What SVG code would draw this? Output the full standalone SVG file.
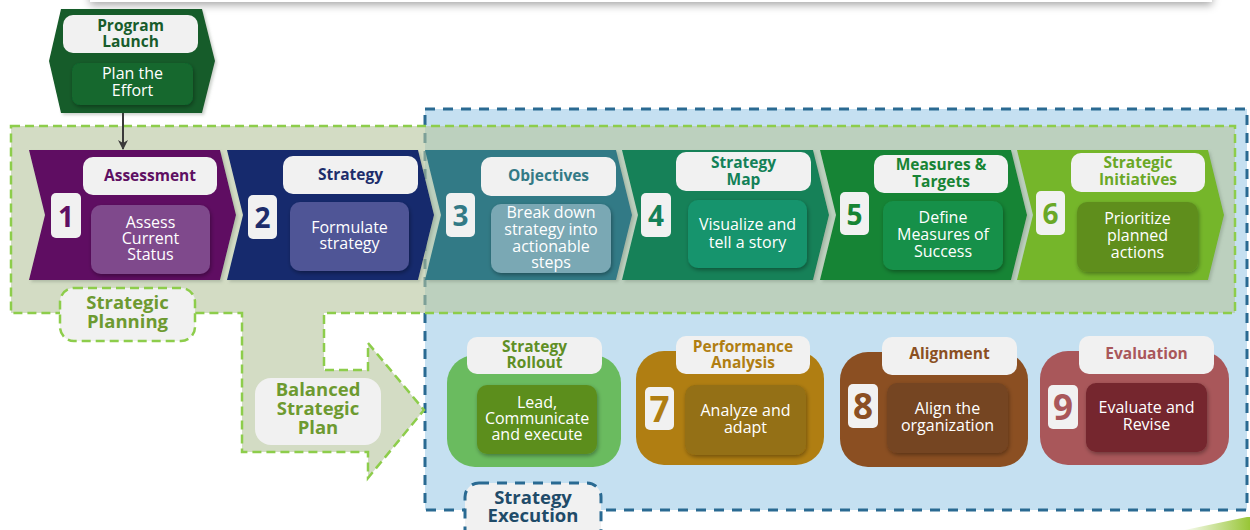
<svg xmlns="http://www.w3.org/2000/svg" width="1250" height="530" viewBox="0 0 1250 530">
  <defs>
    <filter id="soft" x="-10%" y="-10%" width="130%" height="140%">
      <feDropShadow dx="1" dy="2" stdDeviation="2" flood-color="#000" flood-opacity="0.35"/>
    </filter>
    <filter id="halo" x="-10%" y="-10%" width="130%" height="130%">
      <feDropShadow dx="2" dy="2" stdDeviation="1.5" flood-color="#6f7f6f" flood-opacity="0.35"/>
    </filter>
    <filter id="topshade" x="-5%" y="-50%" width="110%" height="200%">
      <feDropShadow dx="0" dy="3" stdDeviation="4" flood-color="#000" flood-opacity="0.35"/>
    </filter>
    <linearGradient id="wedge" x1="0" y1="0" x2="1" y2="0">
      <stop offset="0" stop-color="#ffffff"/>
      <stop offset="1" stop-color="#98c636"/>
    </linearGradient>
    <marker id="arrow" viewBox="0 0 10 10" refX="9" refY="5" markerWidth="5" markerHeight="5" orient="auto">
      <path d="M0,0 L10,5 L0,10 L3,5 Z" fill="#3a3a3a"/>
    </marker>
    <polygon id="chev" points="0,150 191,150 207,215 191,280 0,280 16,215"/>
  </defs>
  <style>
    text { font-family: "Open Sans", "Noto Sans", "DejaVu Sans", sans-serif; text-anchor: middle; }
    .hd { font-weight: 700; font-size: 15.5px; }
    .bd { fill: #ffffff; font-size: 16px; }
    .num { font-weight: 700; font-size: 28px; }
    .bnum { font-weight: 700; font-size: 35px; }
    .lbl { font-weight: 700; font-size: 18.5px; }
    .pill { fill: #f1f1f1; }
    .pl-fill { fill: #b6c59d; fill-opacity: 0.6; }
    .gdash { fill: none; stroke: #8dcd4b; stroke-width: 2.5; stroke-dasharray: 9 5; }
    .bdash { stroke: #2a6a92; stroke-width: 3; stroke-dasharray: 10 8; }
  </style>

  <!-- page edge above -->
  <rect x="90" y="-30" width="1122" height="32" fill="#ffffff" filter="url(#topshade)"/>

  <!-- strategy execution area -->
  <g id="execution-area">
    <rect x="425" y="109" width="822" height="401" fill="#c5e0f1" class="bdash"/>
  </g>

  <!-- strategic planning area with the plan arrow -->
  <g id="planning-area">
    <path class="pl-fill" d="M11,126 H1235 V313 H324 V370 H368 V343 L424,410 L368,478 V452 H242 V313 H11 Z"/>
    <path class="gdash" d="M11,126 H1235 V313 H324 V370 H368 V343 L424,410 L368,478 V452 H242 V313 H11 Z"/>
  </g>

  <g id="label-planning">
    <rect x="60" y="288" width="135" height="53" rx="14" class="pill"/>
    <rect x="60" y="288" width="135" height="53" rx="14" class="gdash"/>
    <text class="lbl" x="127.5" y="309" fill="#6d9a30">Strategic</text>
    <text class="lbl" x="127.5" y="328" fill="#6d9a30">Planning</text>
  </g>

  <g id="label-execution">
    <rect x="465" y="483" width="136" height="60" rx="14" class="pill bdash"/>
    <text class="lbl" x="533" y="504" fill="#1f4b69">Strategy</text>
    <text class="lbl" x="533" y="522" fill="#1f4b69">Execution</text>
  </g>

  <g id="label-plan">
    <rect x="255" y="378" width="126" height="67" rx="16" class="pill"/>
    <text class="lbl" x="318" y="396" fill="#6d9a30">Balanced</text>
    <text class="lbl" x="318" y="415" fill="#6d9a30">Strategic</text>
    <text class="lbl" x="318" y="434" fill="#6d9a30">Plan</text>
  </g>

  <!-- planning steps -->
  <g id="step-1" transform="translate(29,0)">
    <use href="#chev" fill="#5e0f62" filter="url(#halo)"/>
    <rect x="54" y="157" width="134" height="38" rx="10" class="pill"/>
    <text class="hd" x="121" y="181" fill="#5e0f62">Assessment</text>
    <rect x="22" y="193" width="30" height="45" rx="5" class="pill"/>
    <text class="num" x="37" y="227" fill="#5e0f62">1</text>
    <rect x="62" y="205" width="119" height="69" rx="10" fill="#7f4a8c" filter="url(#soft)"/>
    <text class="bd" x="121.5" y="228">Assess</text>
    <text class="bd" x="121.5" y="244">Current</text>
    <text class="bd" x="121.5" y="260">Status</text>
  </g>

  <g id="step-2" transform="translate(227,0)">
    <use href="#chev" fill="#132a6d" filter="url(#halo)"/>
    <rect x="56" y="156" width="135" height="38" rx="10" class="pill"/>
    <text class="hd" x="123.5" y="180" fill="#1d2d6b">Strategy</text>
    <rect x="21" y="195" width="29" height="44" rx="5" class="pill"/>
    <text class="num" x="35.5" y="228" fill="#1d2d6b">2</text>
    <rect x="63" y="202" width="119" height="69" rx="10" fill="#4f5496" filter="url(#soft)"/>
    <text class="bd" x="122.5" y="233">Formulate</text>
    <text class="bd" x="122.5" y="249">strategy</text>
  </g>

  <g id="step-3" transform="translate(425,0)">
    <use href="#chev" fill="#337a86" filter="url(#halo)"/>
    <rect x="56" y="157" width="135" height="39" rx="10" class="pill"/>
    <text class="hd" x="123.5" y="181" fill="#337a86">Objectives</text>
    <rect x="21" y="193" width="29" height="44" rx="5" class="pill"/>
    <text class="num" x="35.5" y="226" fill="#337a86">3</text>
    <rect x="66" y="204" width="120" height="69" rx="10" fill="#7aa8b4" filter="url(#soft)"/>
    <text class="bd" x="126" y="218">Break down</text>
    <text class="bd" x="126" y="235">strategy into</text>
    <text class="bd" x="126" y="252">actionable</text>
    <text class="bd" x="126" y="268">steps</text>
  </g>

  <g id="step-4" transform="translate(622,0)">
    <use href="#chev" fill="#138158" filter="url(#halo)"/>
    <rect x="54" y="152" width="135" height="39" rx="10" class="pill"/>
    <text class="hd" x="121.5" y="168" fill="#138158">Strategy</text>
    <text class="hd" x="121.5" y="185" fill="#138158">Map</text>
    <rect x="19" y="193" width="30" height="44" rx="5" class="pill"/>
    <text class="num" x="34" y="226" fill="#138158">4</text>
    <rect x="66" y="200" width="119" height="68" rx="10" fill="#14946d" filter="url(#soft)"/>
    <text class="bd" x="125.5" y="230">Visualize and</text>
    <text class="bd" x="125.5" y="248">tell a story</text>
  </g>

  <g id="step-5" transform="translate(820,0)">
    <use href="#chev" fill="#178434" filter="url(#halo)"/>
    <rect x="54" y="155" width="134" height="38" rx="10" class="pill"/>
    <text class="hd" x="121" y="170" fill="#178434">Measures &amp;</text>
    <text class="hd" x="121" y="187" fill="#178434">Targets</text>
    <rect x="20" y="192" width="29" height="43" rx="5" class="pill"/>
    <text class="num" x="34.5" y="225" fill="#178434">5</text>
    <rect x="63" y="201" width="120" height="69" rx="10" fill="#169048" filter="url(#soft)"/>
    <text class="bd" x="123" y="223">Define</text>
    <text class="bd" x="123" y="240">Measures of</text>
    <text class="bd" x="123" y="257">Success</text>
  </g>

  <g id="step-6" transform="translate(1017,0)">
    <use href="#chev" fill="#74b62a" filter="url(#halo)"/>
    <rect x="54" y="153" width="134" height="39" rx="10" class="pill"/>
    <text class="hd" x="121" y="168" fill="#6aa826">Strategic</text>
    <text class="hd" x="121" y="185" fill="#6aa826">Initiatives</text>
    <rect x="19" y="191" width="29" height="44" rx="5" class="pill"/>
    <text class="num" x="33.5" y="224" fill="#6aa826">6</text>
    <rect x="60" y="202" width="121" height="70" rx="10" fill="#5e8e1f" filter="url(#soft)"/>
    <text class="bd" x="120.5" y="224">Prioritize</text>
    <text class="bd" x="120.5" y="241">planned</text>
    <text class="bd" x="120.5" y="258">actions</text>
  </g>

  <!-- execution steps -->
  <g id="rollout">
    <rect x="447" y="355" width="174" height="112" rx="28" fill="#6abb5f"/>
    <rect x="467" y="337" width="135" height="37" rx="10" class="pill"/>
    <text class="hd" x="534.5" y="351.5" fill="#5f8f25">Strategy</text>
    <text class="hd" x="534.5" y="367.5" fill="#5f8f25">Rollout</text>
    <rect x="477" y="385" width="120" height="69" rx="10" fill="#5c8e1e" filter="url(#soft)"/>
    <text class="bd" x="537" y="408">Lead,</text>
    <text class="bd" x="537" y="424">Communicate</text>
    <text class="bd" x="537" y="440">and execute</text>
  </g>

  <g id="step-7">
    <rect x="636" y="351" width="188" height="114" rx="28" fill="#b07e12"/>
    <rect x="676" y="336" width="134" height="38" rx="10" class="pill"/>
    <text class="hd" x="743" y="351.5" fill="#b07e12">Performance</text>
    <text class="hd" x="743" y="367.5" fill="#b07e12">Analysis</text>
    <rect x="645" y="387" width="29" height="43" rx="5" class="pill"/>
    <text class="bnum" x="659.5" y="422" fill="#b07e12">7</text>
    <rect x="685" y="385" width="121" height="70" rx="10" fill="#946f13" filter="url(#soft)"/>
    <text class="bd" x="745.5" y="416">Analyze and</text>
    <text class="bd" x="745.5" y="433">adapt</text>
  </g>

  <g id="step-8">
    <rect x="840" y="352" width="188" height="115" rx="28" fill="#8b4f22"/>
    <rect x="882" y="337" width="135" height="38" rx="10" class="pill"/>
    <text class="hd" x="949.5" y="359" fill="#8b4f22">Alignment</text>
    <rect x="848" y="384" width="30" height="44" rx="5" class="pill"/>
    <text class="bnum" x="863" y="419" fill="#8b4f22">8</text>
    <rect x="887" y="383" width="121" height="70" rx="10" fill="#744422" filter="url(#soft)"/>
    <text class="bd" x="947.5" y="414">Align the</text>
    <text class="bd" x="947.5" y="431">organization</text>
  </g>

  <g id="step-9">
    <rect x="1040" y="351" width="189" height="114" rx="28" fill="#a9575a"/>
    <rect x="1079" y="336" width="135" height="38" rx="10" class="pill"/>
    <text class="hd" x="1146.5" y="358.5" fill="#a9575a">Evaluation</text>
    <rect x="1048" y="385" width="30" height="44" rx="5" class="pill"/>
    <text class="bnum" x="1063" y="420" fill="#a9575a">9</text>
    <rect x="1086" y="383" width="121" height="69" rx="10" fill="#75262e" filter="url(#soft)"/>
    <text class="bd" x="1146.5" y="413">Evaluate and</text>
    <text class="bd" x="1146.5" y="430">Revise</text>
  </g>

  <!-- program launch -->
  <g id="program-launch">
    <polygon points="61,9 202,9 215,61 202,113 61,113 49,61" fill="#185c2b" filter="url(#halo)"/>
    <rect x="63" y="15" width="135" height="38" rx="10" class="pill"/>
    <text class="hd" x="130.5" y="31" fill="#185c2b">Program</text>
    <text class="hd" x="130.5" y="47" fill="#185c2b">Launch</text>
    <rect x="72" y="63" width="121" height="42" rx="8" fill="#12682e" filter="url(#soft)"/>
    <text class="bd" x="132.5" y="79">Plan the</text>
    <text class="bd" x="132.5" y="96">Effort</text>
  </g>

  <g id="connectors">
    <line x1="123" y1="113" x2="123" y2="149" stroke="#3a3a3a" stroke-width="2" marker-end="url(#arrow)"/>
  </g>

  <!-- corner of the next panel -->
  <polygon points="1180,531 1247,517 1250,517 1250,531" fill="url(#wedge)"/>
</svg>
